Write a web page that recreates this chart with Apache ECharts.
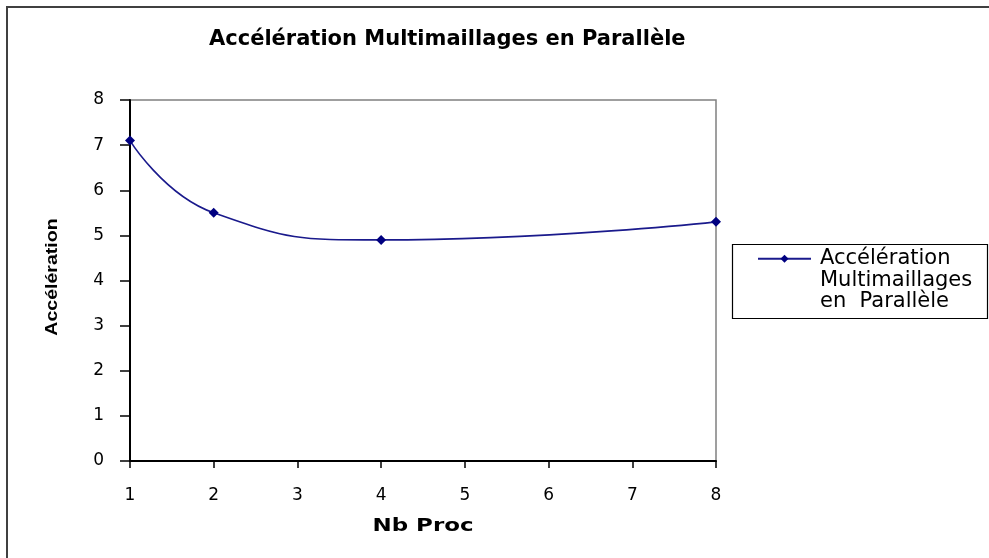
<!DOCTYPE html>
<html>
<head>
<meta charset="utf-8">
<script src="https://cdn.jsdelivr.net/npm/echarts@6/dist/echarts.min.js"></script>
<style>
  html, body { margin: 0; padding: 0; background: #fff; }
  #chart { width: 989px; height: 558px; }
</style>
</head>
<body>
<div id="chart"></div>
<script>
// Speed-up of the parallel multigrid solver vs. number of processors
const chartTitle = 'Accélération Multimaillages en Parallèle';
const seriesName = 'Accélération Multimaillages en  Parallèle';
const legendLines = ['Accélération', 'Multimaillages', 'en  Parallèle'];
const xName = 'Nb Proc';
const yName = 'Accélération';
const procCounts = [1, 2, 4, 8];
const speedups = [7.1, 5.5, 4.9, 5.3];
const xTicks = [1, 2, 3, 4, 5, 6, 7, 8];
const yTicks = [0, 1, 2, 3, 4, 5, 6, 7, 8];

const chart = echarts.init(document.getElementById('chart'), null, { renderer: 'canvas' });

const font = 'DejaVu Sans';
const points = procCounts.map((p, i) => [p, speedups[i]]);

chart.setOption({
  animation: false,
  backgroundColor: '#ffffff',
  title: {
    text: chartTitle,
    left: 204,
    top: 24,
    textStyle: { fontFamily: font, fontWeight: 'bold', fontSize: 21, color: '#000' }
  },
  grid: {
    left: 130, right: 273, top: 100, bottom: 97,
    show: true, borderColor: '#808080', borderWidth: 1.5, backgroundColor: '#fff'
  },
  legend: {
    left: 752,
    top: 200,
    itemWidth: 53,
    itemHeight: 10,
    data: [seriesName],
    formatter: () => '\n\n' + legendLines.join('\n'),
    textStyle: { fontFamily: font, fontSize: 21, lineHeight: 21.5, color: '#000', padding: [0, 0, 0, 4] }
  },
  xAxis: {
    type: 'value',
    min: xTicks[0],
    max: xTicks[xTicks.length - 1],
    interval: 1,
    axisLine: { show: true, onZero: false, lineStyle: { color: '#000', width: 2 } },
    axisTick: { show: true, length: 7, lineStyle: { color: '#000', width: 1.5 } },
    axisLabel: { margin: 26, fontFamily: font, fontSize: 17, color: '#000' },
    splitLine: { show: false }
  },
  yAxis: {
    type: 'value',
    min: yTicks[0],
    max: yTicks[yTicks.length - 1],
    interval: 1,
    axisLine: { show: true, lineStyle: { color: '#000', width: 2 } },
    axisTick: { show: true, length: 10, lineStyle: { color: '#000', width: 1.5 } },
    axisLabel: { margin: 26, fontFamily: font, fontSize: 17, color: '#000' },
    splitLine: { show: false }
  },
  series: [{
    name: seriesName,
    type: 'line',
    smooth: 0.5,
    data: points,
    symbol: 'diamond',
    symbolSize: 10,
    itemStyle: { color: '#000080' },
    lineStyle: { color: '#1a1a8c', width: 1.6 }
  }],
  graphic: [
    {
      type: 'rect', silent: true, z: -1,
      shape: { x: 7, y: 7, width: 1000, height: 600 },
      style: { fill: 'none', stroke: '#404040', lineWidth: 2 }
    },
    {
      type: 'rect', silent: true,
      shape: { x: 732.5, y: 244.5, width: 255, height: 74 },
      style: { fill: 'none', stroke: '#000', lineWidth: 1.2 }
    },
    {
      type: 'text', silent: true,
      x: 423, y: 527, scaleX: 1.35, originX: 0,
      style: {
        text: xName, fontFamily: font, fontWeight: 'bold', fontSize: 17,
        fill: '#000', align: 'center', verticalAlign: 'middle'
      }
    },
    {
      type: 'text', silent: true,
      x: 52, y: 277, rotation: Math.PI / 2, scaleX: 1.15,
      style: {
        text: yName, fontFamily: 'Liberation Sans', fontWeight: 'bold', fontSize: 17,
        fill: '#000', align: 'center', verticalAlign: 'middle'
      }
    }
  ]
});
</script>
</body>
</html>
